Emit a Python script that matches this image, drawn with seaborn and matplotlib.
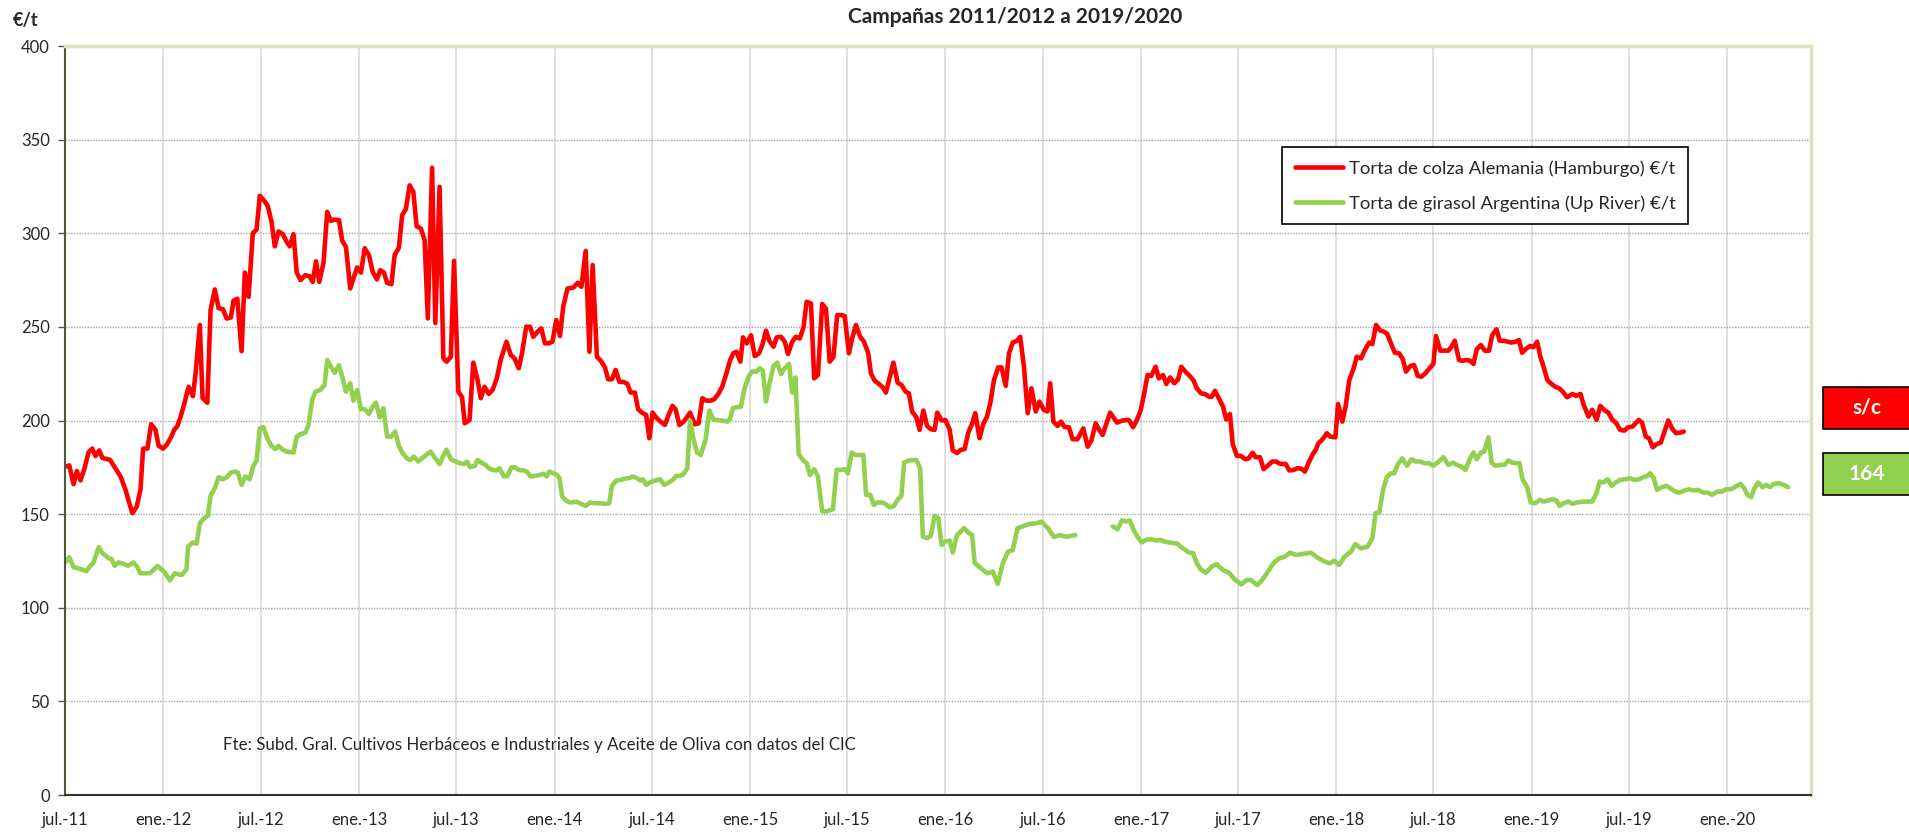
import pandas as pd
import matplotlib.pyplot as plt
import seaborn as sns
from matplotlib.lines import Line2D
from matplotlib.patches import Rectangle

# Precios semanales (€/t)
fechas_colza = [
    '2011-07-01', '2011-07-09', '2011-07-17', '2011-07-23', '2011-07-30', '2011-08-06', '2011-08-14',
    '2011-08-21', '2011-08-27', '2011-09-03', '2011-09-09', '2011-09-23', '2011-10-02', '2011-10-13',
    '2011-10-22', '2011-10-29', '2011-11-04', '2011-11-12', '2011-11-19', '2011-11-24', '2011-12-02',
    '2011-12-09', '2011-12-17', '2011-12-23', '2011-12-31', '2012-01-07', '2012-01-15', '2012-01-21',
    '2012-01-27', '2012-02-02', '2012-02-08', '2012-02-17', '2012-02-25', '2012-03-01', '2012-03-09',
    '2012-03-14', '2012-03-23', '2012-03-29', '2012-04-06', '2012-04-13', '2012-04-21', '2012-04-28',
    '2012-05-06', '2012-05-11', '2012-05-18', '2012-05-26', '2012-06-01', '2012-06-08', '2012-06-16',
    '2012-06-23', '2012-06-29', '2012-07-07', '2012-07-14', '2012-07-21', '2012-07-27', '2012-08-03',
    '2012-08-11', '2012-08-18', '2012-08-24', '2012-08-31', '2012-09-06', '2012-09-13', '2012-09-22',
    '2012-09-30', '2012-10-06', '2012-10-12', '2012-10-18', '2012-10-26', '2012-11-02', '2012-11-09',
    '2012-11-15', '2012-11-24', '2012-11-30', '2012-12-07', '2012-12-15', '2012-12-22', '2012-12-28',
    '2013-01-04', '2013-01-11', '2013-01-19', '2013-01-26', '2013-02-03', '2013-02-09', '2013-02-16',
    '2013-02-22', '2013-03-02', '2013-03-08', '2013-03-16', '2013-03-22', '2013-03-29', '2013-04-05',
    '2013-04-12', '2013-04-18', '2013-04-26', '2013-05-03', '2013-05-09', '2013-05-17', '2013-05-23',
    '2013-05-31', '2013-06-07', '2013-06-13', '2013-06-21', '2013-06-27', '2013-07-05', '2013-07-12',
    '2013-07-17', '2013-07-26', '2013-08-02', '2013-08-10', '2013-08-16', '2013-08-23', '2013-08-31',
    '2013-09-07', '2013-09-15', '2013-09-22', '2013-10-03', '2013-10-11', '2013-10-18', '2013-10-26',
    '2013-11-01', '2013-11-09', '2013-11-16', '2013-11-22', '2013-11-30', '2013-12-07', '2013-12-14',
    '2013-12-21', '2013-12-28', '2014-01-04', '2014-01-11', '2014-01-17', '2014-01-25', '2014-02-05',
    '2014-02-13', '2014-02-20', '2014-02-28', '2014-03-07', '2014-03-13', '2014-03-21', '2014-03-28',
    '2014-04-05', '2014-04-11', '2014-04-18', '2014-04-25', '2014-05-02', '2014-05-10', '2014-05-17',
    '2014-05-23', '2014-05-31', '2014-06-06', '2014-06-13', '2014-06-21', '2014-06-27', '2014-07-03',
    '2014-07-11', '2014-07-18', '2014-07-26', '2014-08-02', '2014-08-09', '2014-08-15', '2014-08-22',
    '2014-08-30', '2014-09-05', '2014-09-11', '2014-09-20', '2014-09-27', '2014-10-04', '2014-10-11',
    '2014-10-19', '2014-10-26', '2014-11-03', '2014-11-10', '2014-11-18', '2014-11-25', '2014-12-01',
    '2014-12-07', '2014-12-14', '2014-12-19', '2014-12-26', '2015-01-03', '2015-01-10', '2015-01-18',
    '2015-01-24', '2015-01-31', '2015-02-06', '2015-02-14', '2015-02-20', '2015-02-28', '2015-03-07',
    '2015-03-13', '2015-03-21', '2015-03-28', '2015-04-04', '2015-04-11', '2015-04-17', '2015-04-25',
    '2015-05-01', '2015-05-08', '2015-05-16', '2015-05-23', '2015-05-30', '2015-06-06', '2015-06-13',
    '2015-06-21', '2015-06-27', '2015-07-05', '2015-07-11', '2015-07-18', '2015-07-26', '2015-08-02',
    '2015-08-10', '2015-08-15', '2015-08-22', '2015-08-30', '2015-09-06', '2015-09-12', '2015-09-19',
    '2015-09-26', '2015-10-04', '2015-10-11', '2015-10-19', '2015-10-25', '2015-10-31', '2015-11-08',
    '2015-11-14', '2015-11-21', '2015-11-28', '2015-12-05', '2015-12-12', '2015-12-17', '2015-12-25',
    '2016-01-01', '2016-01-09', '2016-01-15', '2016-01-23', '2016-01-30', '2016-02-06', '2016-02-13',
    '2016-02-20', '2016-02-26', '2016-03-05', '2016-03-12', '2016-03-19', '2016-03-25', '2016-04-01',
    '2016-04-09', '2016-04-15', '2016-04-23', '2016-04-29', '2016-05-06', '2016-05-14', '2016-05-20',
    '2016-05-27', '2016-06-03', '2016-06-10', '2016-06-18', '2016-06-25', '2016-07-03', '2016-07-10',
    '2016-07-15', '2016-07-21', '2016-07-29', '2016-08-04', '2016-08-11', '2016-08-19', '2016-08-26',
    '2016-09-04', '2016-09-15', '2016-09-23', '2016-09-30', '2016-10-08', '2016-10-14', '2016-10-21',
    '2016-11-04', '2016-11-17', '2016-11-27', '2016-12-09', '2016-12-17', '2016-12-24', '2016-12-31',
    '2017-01-07', '2017-01-13', '2017-01-20', '2017-01-28', '2017-02-03', '2017-02-11', '2017-02-17',
    '2017-02-24', '2017-03-04', '2017-03-11', '2017-03-17', '2017-03-25', '2017-04-03', '2017-04-09',
    '2017-04-15', '2017-04-23', '2017-04-30', '2017-05-08', '2017-05-13', '2017-05-19', '2017-05-26',
    '2017-06-03', '2017-06-09', '2017-06-16', '2017-06-21', '2017-06-29', '2017-07-06', '2017-07-15',
    '2017-07-21', '2017-07-28', '2017-08-03', '2017-08-11', '2017-08-18', '2017-08-25', '2017-09-03',
    '2017-09-10', '2017-09-18', '2017-09-28', '2017-10-05', '2017-10-13', '2017-10-20', '2017-10-27',
    '2017-11-03', '2017-11-10', '2017-11-17', '2017-11-24', '2017-11-28', '2017-12-05', '2017-12-14',
    '2017-12-20', '2017-12-30', '2018-01-04', '2018-01-12', '2018-01-18', '2018-01-25', '2018-02-02',
    '2018-02-08', '2018-02-16', '2018-02-23', '2018-03-03', '2018-03-09', '2018-03-16', '2018-03-24',
    '2018-03-31', '2018-04-06', '2018-04-14', '2018-04-20', '2018-04-28', '2018-05-05', '2018-05-11',
    '2018-05-19', '2018-05-26', '2018-06-02', '2018-06-09', '2018-06-16', '2018-06-24', '2018-07-01',
    '2018-07-06', '2018-07-14', '2018-07-21', '2018-07-29', '2018-08-04', '2018-08-10', '2018-08-18',
    '2018-08-24', '2018-09-01', '2018-09-08', '2018-09-14', '2018-09-20', '2018-09-28', '2018-10-05',
    '2018-10-13', '2018-10-19', '2018-10-27', '2018-11-02', '2018-11-09', '2018-11-17', '2018-11-24',
    '2018-12-02', '2018-12-08', '2018-12-14', '2018-12-22', '2018-12-29', '2019-01-04', '2019-01-11',
    '2019-01-17', '2019-01-23', '2019-01-30', '2019-02-07', '2019-02-14', '2019-02-21', '2019-02-28',
    '2019-03-08', '2019-03-18', '2019-03-25', '2019-04-02', '2019-04-08', '2019-04-17', '2019-04-24',
    '2019-05-02', '2019-05-09', '2019-05-16', '2019-05-24', '2019-05-31', '2019-06-08', '2019-06-15',
    '2019-06-23', '2019-06-30', '2019-07-08', '2019-07-14', '2019-07-20', '2019-07-26', '2019-08-02',
    '2019-08-08', '2019-08-15', '2019-08-23', '2019-08-30', '2019-09-06', '2019-09-13', '2019-09-21',
    '2019-09-28', '2019-10-06', '2019-10-12',
]
colza = [
    175.3, 176, 166, 173, 168, 174, 183,
    185, 181, 184, 180, 179, 175, 170,
    163, 156, 150.5, 154, 163, 185, 185,
    198, 195, 186.5, 185, 187, 191, 195,
    197, 202, 208, 218, 213, 225, 251,
    212, 209.5, 259, 270, 260, 259.5, 254.5,
    255, 264, 265, 237, 279, 266, 300,
    302, 320, 317.5, 314.5, 306, 293, 301,
    299.5, 295.5, 293, 299.5, 279, 275, 277.6,
    277, 274, 285, 274, 284, 311.4, 306.6,
    307.3, 307, 296, 292.7, 270.5, 276.7, 281.7,
    279, 292, 288.3, 279.4, 275.3, 280.3, 279,
    273.5, 272.8, 288.3, 292.4, 309.6, 313, 325.6,
    322, 303.8, 302.5, 296.3, 254.5, 335, 252,
    324.8, 233.2, 231.4, 234, 285.3, 215.4, 212.4,
    198.5, 200.3, 230.9, 221.6, 211.9, 218, 214.2,
    216.3, 222.5, 232.3, 242.1, 235, 233.2, 227.9,
    235.9, 250.1, 250.1, 244.7, 247.4, 249.2, 241.2,
    241.2, 242.1, 253.6, 245.1, 260.7, 270.5, 271,
    273.5, 271.4, 290.6, 236.7, 283, 234, 232,
    228.4, 222, 222, 227, 220.6, 220.6, 219.5,
    214.9, 214.9, 206, 204.2, 203, 190.5, 204.2,
    201.2, 199.4, 197.6, 203, 207.8, 206, 197.6,
    199.4, 201.7, 204.2, 198, 198.5, 211.9, 210.6,
    210.6, 211.3, 214.2, 218, 225.2, 232.3, 235.9,
    236.7, 231.4, 244.4, 241.2, 245.5, 234.4, 235.9,
    240.3, 248, 242.6, 239.4, 244.4, 244.7, 242.1,
    235.5, 242.1, 244.7, 243.8, 249.7, 263.4, 262.5,
    222.5, 224.3, 262.2, 259.8, 231.4, 234, 256.3,
    256.3, 255.8, 235.9, 243.9, 251, 244.7, 242.1,
    235.9, 225.2, 221.3, 219.5, 217.8, 214.9, 223,
    230.9, 220.2, 219, 215.4, 214.5, 204.8, 201.7,
    195, 205.3, 197.1, 195.3, 195, 204.2, 200,
    200.3, 195.3, 184, 182.6, 184.4, 184.7, 193.6,
    198.2, 203.9, 190.5, 198.2, 202.1, 209.2, 221.6,
    228.4, 228.4, 218.5, 235.9, 241.6, 242.6, 244.7,
    228.7, 203.9, 217.2, 204.8, 210.1, 205.7, 204.8,
    219.9, 199.4, 197.1, 199.4, 196.5, 196.4, 190,
    190, 195.8, 186, 189.3, 198.5, 195.3, 192.3,
    204.2, 198.9, 200, 200.3, 196.4, 200.3, 205.3,
    214.9, 224.3, 223.8, 228.7, 222.5, 224.3, 219.5,
    223, 219.9, 222, 228.7, 226, 223.4, 221.3,
    217.2, 214.5, 214.2, 212.7, 212.7, 215.9, 211.9,
    207.4, 200.6, 203.5, 187.5, 181.1, 181.1, 179.3,
    179.8, 182.8, 180.4, 180.4, 174, 175.8, 178.1,
    178.1, 176.8, 176.8, 173.3, 173.6, 174.5, 174.3,
    172.7, 177.5, 181.6, 184.7, 187.8, 189.6, 193.2,
    191.4, 191, 208.8, 199.4, 207.4, 221.6, 227.9,
    234.1, 233.2, 237.6, 241.6, 240.8, 251, 248,
    247.4, 246.2, 240.3, 236.2, 235.9, 232.7, 226.1,
    229.1, 229.6, 223.8, 223.4, 225.2, 227.9, 230.2,
    245.1, 237.3, 237.3, 237.3, 239.4, 242.6, 232.3,
    231.9, 232.3, 231.9, 230.2, 238, 240.3, 237.3,
    237.3, 245.6, 248.7, 242.6, 242.6, 242.1, 241.6,
    242.1, 243, 236.2, 238.5, 239.8, 239.1, 242.1,
    234.1, 228.7, 221.6, 219.5, 218, 217.2, 215.4,
    212.4, 214.2, 213.1, 214.2, 208.3, 202.1, 205.7,
    200.3, 207.8, 205.7, 204.2, 200.6, 198.5, 195,
    194.6, 196.4, 196.7, 198.5, 200.3, 198.9, 191.4,
    190.5, 185.7, 187.5, 188.2, 194.1, 200, 195.3,
    193.2, 193.6, 194.1,
]

fechas_girasol = [
    '2011-07-01', '2011-07-09', '2011-07-17', '2011-08-01', '2011-08-10', '2011-08-16', '2011-08-23',
    '2011-09-02', '2011-09-09', '2011-09-20', '2011-09-26', '2011-10-02', '2011-10-09', '2011-10-18',
    '2011-10-27', '2011-11-06', '2011-11-13', '2011-11-19', '2011-12-07', '2011-12-21', '2012-01-03',
    '2012-01-13', '2012-01-22', '2012-02-04', '2012-02-13', '2012-02-16', '2012-02-25', '2012-03-03',
    '2012-03-09', '2012-03-17', '2012-03-24', '2012-03-29', '2012-04-06', '2012-04-13', '2012-04-21',
    '2012-04-28', '2012-05-06', '2012-05-13', '2012-05-19', '2012-05-26', '2012-06-02', '2012-06-10',
    '2012-06-17', '2012-06-23', '2012-06-29', '2012-07-06', '2012-07-13', '2012-07-21', '2012-07-28',
    '2012-08-03', '2012-08-11', '2012-08-18', '2012-08-31', '2012-09-06', '2012-09-14', '2012-09-22',
    '2012-09-28', '2012-10-05', '2012-10-11', '2012-10-20', '2012-10-28', '2012-11-02', '2012-11-09',
    '2012-11-16', '2012-11-24', '2012-11-30', '2012-12-07', '2012-12-15', '2012-12-21', '2012-12-28',
    '2013-01-04', '2013-01-11', '2013-01-19', '2013-01-26', '2013-02-01', '2013-02-08', '2013-02-15',
    '2013-02-22', '2013-03-02', '2013-03-09', '2013-03-16', '2013-03-23', '2013-03-31', '2013-04-06',
    '2013-04-13', '2013-04-21', '2013-04-28', '2013-05-06', '2013-05-14', '2013-05-23', '2013-05-31',
    '2013-06-07', '2013-06-13', '2013-06-21', '2013-06-30', '2013-07-08', '2013-07-16', '2013-07-21',
    '2013-07-27', '2013-08-05', '2013-08-10', '2013-08-17', '2013-08-25', '2013-08-31', '2013-09-07',
    '2013-09-14', '2013-09-20', '2013-09-28', '2013-10-05', '2013-10-12', '2013-10-18', '2013-10-26',
    '2013-11-04', '2013-11-10', '2013-11-17', '2013-11-25', '2013-12-04', '2013-12-11', '2013-12-17',
    '2013-12-22', '2013-12-30', '2014-01-06', '2014-01-10', '2014-01-15', '2014-01-22', '2014-01-30',
    '2014-02-11', '2014-02-19', '2014-02-28', '2014-03-08', '2014-03-17', '2014-03-27', '2014-04-06',
    '2014-04-13', '2014-04-18', '2014-04-26', '2014-05-05', '2014-05-12', '2014-05-20', '2014-05-27',
    '2014-06-04', '2014-06-10', '2014-06-15', '2014-06-21', '2014-06-28', '2014-07-07', '2014-07-17',
    '2014-07-25', '2014-08-02', '2014-08-10', '2014-08-16', '2014-08-24', '2014-08-30', '2014-09-06',
    '2014-09-11', '2014-09-17', '2014-09-24', '2014-10-01', '2014-10-10', '2014-10-17', '2014-10-25',
    '2014-11-01', '2014-11-10', '2014-11-19', '2014-11-24', '2014-11-30', '2014-12-07', '2014-12-15',
    '2014-12-22', '2014-12-30', '2015-01-05', '2015-01-13', '2015-01-20', '2015-01-25', '2015-01-31',
    '2015-02-06', '2015-02-14', '2015-02-21', '2015-02-28', '2015-03-07', '2015-03-15', '2015-03-21',
    '2015-03-27', '2015-04-02', '2015-04-10', '2015-04-17', '2015-04-23', '2015-05-01', '2015-05-08',
    '2015-05-16', '2015-05-23', '2015-06-05', '2015-06-12', '2015-06-20', '2015-06-27', '2015-07-03',
    '2015-07-10', '2015-07-17', '2015-07-25', '2015-08-01', '2015-08-06', '2015-08-14', '2015-08-20',
    '2015-08-27', '2015-09-04', '2015-09-11', '2015-09-19', '2015-09-26', '2015-10-04', '2015-10-11',
    '2015-10-16', '2015-10-24', '2015-10-31', '2015-11-08', '2015-11-15', '2015-11-20', '2015-11-28',
    '2015-12-05', '2015-12-12', '2015-12-19', '2015-12-25', '2016-01-01', '2016-01-09', '2016-01-15',
    '2016-01-23', '2016-01-30', '2016-02-05', '2016-02-13', '2016-02-20', '2016-02-25', '2016-03-04',
    '2016-03-19', '2016-03-30', '2016-04-08', '2016-04-17', '2016-04-27', '2016-05-06', '2016-05-15',
    '2016-05-26', '2016-06-04', '2016-06-16', '2016-06-29', '2016-07-11', '2016-07-22', '2016-08-03',
    '2016-08-14', '2016-08-31', '2016-10-01', '2016-11-09', '2016-11-18', '2016-11-26', '2016-12-05',
    '2016-12-11', '2016-12-18', '2016-12-25', '2017-01-02', '2017-01-10', '2017-01-19', '2017-01-29',
    '2017-02-06', '2017-02-13', '2017-02-22', '2017-03-03', '2017-03-10', '2017-03-16', '2017-03-24',
    '2017-03-31', '2017-04-08', '2017-04-15', '2017-04-23', '2017-05-02', '2017-05-13', '2017-05-22',
    '2017-06-03', '2017-06-14', '2017-06-26', '2017-07-07', '2017-07-17', '2017-07-25', '2017-08-06',
    '2017-08-15', '2017-08-24', '2017-09-05', '2017-09-16', '2017-09-27', '2017-10-06', '2017-10-18',
    '2017-10-29', '2017-11-14', '2017-11-26', '2017-12-07', '2017-12-19', '2017-12-28', '2018-01-06',
    '2018-01-16', '2018-01-28', '2018-02-05', '2018-02-16', '2018-02-28', '2018-03-09', '2018-03-15',
    '2018-03-22', '2018-03-29', '2018-04-05', '2018-04-13', '2018-04-19', '2018-04-25', '2018-05-04',
    '2018-05-13', '2018-05-21', '2018-05-29', '2018-06-07', '2018-06-14', '2018-06-23', '2018-07-01',
    '2018-07-09', '2018-07-20', '2018-07-29', '2018-08-07', '2018-08-14', '2018-08-22', '2018-08-30',
    '2018-09-07', '2018-09-14', '2018-09-20', '2018-09-28', '2018-10-04', '2018-10-12', '2018-10-18',
    '2018-10-25', '2018-11-03', '2018-11-11', '2018-11-18', '2018-11-25', '2018-12-03', '2018-12-09',
    '2018-12-15', '2018-12-23', '2018-12-30', '2019-01-07', '2019-01-16', '2019-01-23', '2019-01-31',
    '2019-02-08', '2019-02-16', '2019-02-22', '2019-03-01', '2019-03-10', '2019-03-18', '2019-03-26',
    '2019-04-04', '2019-04-14', '2019-04-24', '2019-05-02', '2019-05-08', '2019-05-15', '2019-05-23',
    '2019-05-30', '2019-06-07', '2019-06-15', '2019-06-24', '2019-07-03', '2019-07-12', '2019-07-20',
    '2019-07-29', '2019-08-05', '2019-08-10', '2019-08-17', '2019-08-23', '2019-09-01', '2019-09-09',
    '2019-09-17', '2019-09-26', '2019-10-04', '2019-10-13', '2019-10-22', '2019-10-30', '2019-11-08',
    '2019-11-17', '2019-11-26', '2019-12-04', '2019-12-13', '2019-12-22', '2019-12-30', '2020-01-08',
    '2020-01-17', '2020-01-26', '2020-02-02', '2020-02-08', '2020-02-15', '2020-02-21', '2020-02-28',
    '2020-03-07', '2020-03-14', '2020-03-21', '2020-03-28', '2020-04-07', '2020-04-16', '2020-04-24',
]
girasol = [
    124.2, 127, 121.7, 120.5, 119.5, 122, 124,
    132.4, 129.2, 126.5, 126, 122.4, 124.2, 123.5,
    122.4, 124.2, 121.7, 118.4, 118.5, 122.3, 119,
    114.6, 118.4, 117.5, 120.5, 132.6, 134.9, 134.2,
    145.2, 147.8, 149.1, 159.8, 163.9, 169.7, 168.6,
    169.7, 172.2, 172.7, 172.2, 165.6, 170.1, 168.6,
    175.8, 178.6, 195.8, 196.4, 190.5, 186.4, 184.7,
    186.4, 184.4, 183.4, 182.9, 191.4, 192.8, 193.5,
    197.6, 211, 215.4, 216.3, 219, 232.3, 228.7,
    225.5, 229.5, 223.4, 215.4, 219.9, 210.6, 216.3,
    206, 206, 203.5, 207.4, 209.6, 201.7, 206.5,
    191.4, 191.4, 194.1, 186.4, 182.5, 179.8, 178.9,
    180.7, 178.1, 179.8, 181.6, 183.4, 179.8, 176.8,
    181.1, 184.4, 179.3, 178.1, 177.2, 176.8, 178.1,
    175.1, 175.8, 178.9, 177.5, 176.3, 174.5, 173.6,
    173.3, 174.5, 170.1, 170.4, 174.9, 175.1, 173.6,
    173.3, 172.7, 170.1, 170.4, 170.9, 171.5, 170.1,
    172.7, 171.8, 170.9, 169.2, 159.4, 157.3, 156.2,
    156.6, 155.5, 154.4, 156.2, 155.8, 155.8, 155.5,
    155.8, 165.1, 167.9, 168.3, 169, 169.2, 170.1,
    169.2, 167.9, 168.6, 165.6, 166.9, 167.9, 168.6,
    165.6, 166.9, 168.3, 170.4, 170.4, 171.5, 174.5,
    200, 190.6, 182.9, 181.6, 189.6, 205.3, 200.3,
    200.3, 200, 199.4, 200.3, 206.5, 207.1, 207.4,
    217.2, 223.8, 226.1, 226.1, 227.9, 226.6, 210.1,
    219, 229.1, 230.9, 224.8, 227.9, 230.2, 214.9,
    223, 182.1, 178.9, 177.2, 170.9, 174, 170.1,
    151.4, 151.4, 152.6, 173.6, 173.6, 174, 171.8,
    182.9, 181.6, 181.6, 181.6, 160.3, 160.3, 154.9,
    156.2, 156.2, 155.5, 153.7, 154.1, 157.6, 159.8,
    177.5, 178.6, 178.9, 178.9, 174.5, 138, 137.2,
    138.4, 149.1, 147.8, 133.6, 135.4, 135.9, 129.5,
    138.9, 140.7, 142.5, 140.2, 138.9, 123.8, 122,
    118.4, 119.3, 112.7, 123.3, 129.9, 130.8, 142.4,
    143.6, 144.7, 145, 145.9, 142.4, 137.9, 138.8,
    137.9, 138.8, None, 143.4, 142, 146.6, 146.1,
    146.6, 141.6, 138, 134.9, 136.3, 136.6, 135.9,
    136.3, 135.4, 134.9, 134.5, 134.2, 132.4, 131,
    129.5, 129.2, 123.8, 120.3, 118.7, 122, 123.3,
    120.1, 118.7, 114.8, 112.5, 114.8, 114.8, 112.1,
    114.8, 118.4, 123.7, 126.4, 127.3, 129.4, 128.2,
    128.7, 129.4, 126.9, 125.1, 123.7, 125.1, 122.8,
    127.3, 129.9, 134, 131.7, 132.6, 137, 150.5,
    150.9, 162.9, 169.7, 171.8, 171.8, 176.3, 179.8,
    175.8, 179.3, 178.1, 178.1, 177.2, 177.2, 175.8,
    177.5, 180.4, 176.3, 177.5, 176.3, 175.4, 173.6,
    179.3, 182.9, 179.3, 182.9, 183.4, 191.1, 177.5,
    175.8, 176.3, 176.3, 178.6, 177.5, 177.2, 177.2,
    168.3, 164.7, 156.2, 155.8, 157.6, 156.7, 157.3,
    158, 157.3, 154.4, 155.8, 156.7, 155.5, 156.2,
    156.6, 156.7, 156.7, 161.2, 167.4, 166.9, 168.6,
    165.1, 166.9, 168.3, 168.6, 169.2, 168.3, 168.6,
    169.7, 170.4, 171.8, 169.2, 162.9, 164.4, 165.1,
    163.8, 162, 161.5, 162.6, 163.3, 162.6, 162.9,
    161.5, 161.5, 160.3, 162, 162, 163.3, 163.3,
    164.7, 166.1, 163.8, 160.3, 159, 163.8, 166.9,
    164.4, 165.6, 164.4, 166.1, 166.5, 165.6, 164.4,
]

serie_colza = 'Torta de colza Alemania (Hamburgo) €/t'
serie_girasol = 'Torta de girasol Argentina (Up River) €/t'

ticks_fechas = ['2011-07-01', '2012-01-01', '2012-07-01', '2013-01-01', '2013-07-01', '2014-01-01',
                '2014-07-01', '2015-01-01', '2015-07-01', '2016-01-01', '2016-07-01', '2017-01-01',
                '2017-07-01', '2018-01-01', '2018-07-01', '2019-01-01', '2019-07-01', '2020-01-01']
ticks_etiquetas = ['jul.-11', 'ene.-12', 'jul.-12', 'ene.-13', 'jul.-13', 'ene.-14', 'jul.-14', 'ene.-15',
                   'jul.-15', 'ene.-16', 'jul.-16', 'ene.-17', 'jul.-17', 'ene.-18', 'jul.-18', 'ene.-19',
                   'jul.-19', 'ene.-20']

ultimo_colza = 's/c'
ultimo_girasol = '164'

rojo = '#FF0000'
verde = '#92D050'

# Tabla larga para seaborn; cada tramo sin huecos es una unidad
df_c = pd.DataFrame({'Fecha': pd.to_datetime(fechas_colza), 'Precio': colza, 'Serie': serie_colza})
df_g = pd.DataFrame({'Fecha': pd.to_datetime(fechas_girasol), 'Precio': girasol, 'Serie': serie_girasol})
df = pd.concat([df_c, df_g], ignore_index=True)
df['Precio'] = pd.to_numeric(df['Precio'])
df['Tramo'] = df['Precio'].isna().cumsum()
df = df.dropna()

sns.set_theme(style='white')
plt.rcParams['font.family'] = ['Lato', 'DejaVu Sans']

fig = plt.figure(figsize=(19.09, 8.32), dpi=100)
ax = fig.add_axes([0.03405, 0.04447, 0.9144, 0.90024])

sns.lineplot(data=df, x='Fecha', y='Precio', hue='Serie', units='Tramo', estimator=None,
             palette={serie_colza: rojo, serie_girasol: verde}, linewidth=3.3,
             legend=False, ax=ax, solid_joinstyle='round', solid_capstyle='round')

ax.set_xlim(pd.Timestamp('2011-07-01'), pd.Timestamp('2020-06-05'))
ax.set_ylim(0, 400)
ax.set_yticks(range(0, 401, 50))
ax.set_xticks(pd.to_datetime(ticks_fechas))
ax.set_xticklabels(ticks_etiquetas)
ax.set_xlabel('')
ax.set_ylabel('')

ax.grid(axis='x', color='#d9d9d9', linewidth=1.2, linestyle='-')
ax.grid(axis='y', color='#a6a6a6', linewidth=1, linestyle=(0, (1, 1)))
ax.set_axisbelow(True)

for lado in ['top', 'right']:
    ax.spines[lado].set_color('#d7e4bd')
    ax.spines[lado].set_linewidth(2.5)
ax.spines['left'].set_color('#4f5a3c')
ax.spines['left'].set_linewidth(1.5)
ax.spines['bottom'].set_color('#2f3527')
ax.spines['bottom'].set_linewidth(1.5)

ax.tick_params(axis='y', length=5, width=1, color='#4f5a3c', direction='out', labelsize=12, pad=6,
               left=True)
ax.tick_params(axis='x', length=0, labelsize=12, pad=12)

handles = [Line2D([], [], color=rojo, linewidth=3.3, solid_capstyle='round'),
           Line2D([], [], color=verde, linewidth=3.3, solid_capstyle='round')]
leg = ax.legend(handles, [serie_colza, serie_girasol], loc='upper left',
                bbox_to_anchor=(0.6716, 0.8233), bbox_transform=fig.transFigure,
                frameon=True, fancybox=False, framealpha=1, edgecolor='black',
                fontsize=13.3, handlelength=2.6, handletextpad=0.3, labelspacing=1.0,
                borderpad=0.7, borderaxespad=0)
leg.get_frame().set_linewidth(1.2)

fig.text(0.532, 0.9796, 'Campañas 2011/2012 a 2019/2020', ha='center', va='center',
         fontsize=15, fontweight='bold')
fig.text(0.0068, 0.9754, '€/t', ha='left', va='center', fontsize=13, fontweight='bold')
fig.text(0.1168, 0.1046, 'Fte: Subd. Gral. Cultivos Herbáceos e Industriales y Aceite de Oliva con datos del CIC',
         ha='left', va='center', fontsize=12.2)

# Recuadros con el ultimo precio
for y0, color, texto in [(0.4844, rojo, ultimo_colza), (0.4050, verde, ultimo_girasol)]:
    fig.add_artist(Rectangle((0.955, y0), 0.05, 0.0505, transform=fig.transFigure,
                             facecolor=color, edgecolor='black', linewidth=1.2))
    fig.text(0.978, y0 + 0.0253, texto, ha='center', va='center', color='white',
             fontsize=15, fontweight='bold')

fig.savefig('out.png', dpi=100)
